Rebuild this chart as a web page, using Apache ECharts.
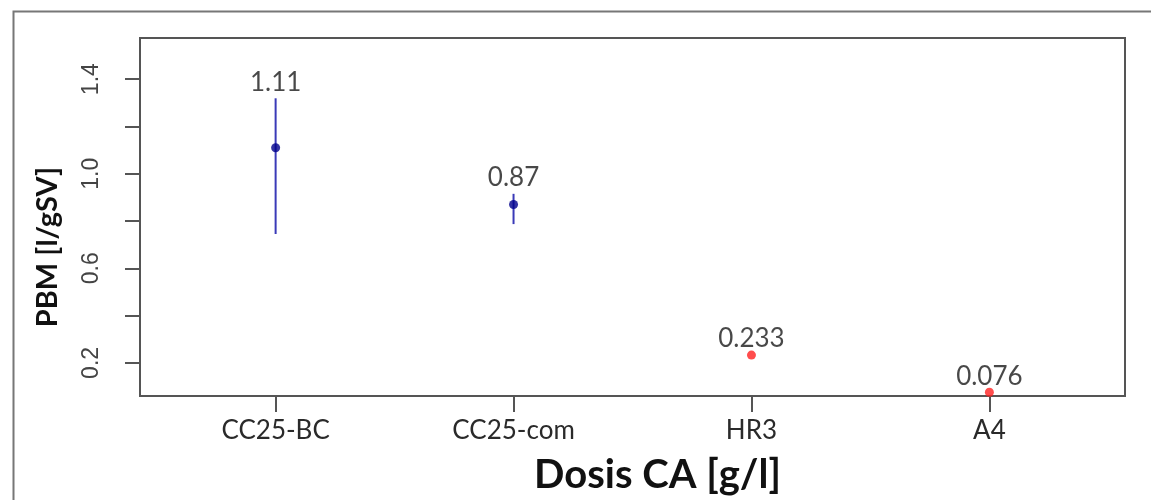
<!DOCTYPE html>
<html>
<head>
<meta charset="utf-8">
<script src="https://cdn.jsdelivr.net/npm/echarts@6/dist/echarts.min.js"></script>
<style>
  html,body{margin:0;padding:0;background:#fff;}
  #chart{width:1151px;height:500px;}
</style>
</head>
<body>
<div id="chart"></div>
<script>
    //类别
    var categories=['CC25-BC','CC25-com','HR3','A4'];
    //点值
    var pointValues=[1.11,0.87,0.233,0.076];
    //误差下限 / 上限
    var lowerValues=[0.745,0.787,null,null];
    var upperValues=[1.319,0.915,null,null];
    //点标签
    var pointLabels=['1.11','0.87','0.233','0.076'];
    //点颜色
    var pointColors=['#00008b','#00008b','#ff2020','#ff2020'];
    //y轴刻度
    var yTicks=[0.2,0.4,0.6,0.8,1.0,1.2,1.4];
    var yTickLabels=[0.2,0.6,1.0,1.4];

    var myChart=echarts.init(document.getElementById('chart'));

    var xPos=categories.map(function(c,i){return i+1;});

    var pointData=pointValues.map(function(v,i){
        return {value:[xPos[i],v],itemStyle:{color:pointColors[i]}};
    });

    var errorData=[];
    for(var i=0;i<categories.length;i++){
        if(lowerValues[i]!=null){
            errorData.push([xPos[i],lowerValues[i],upperValues[i]]);
        }
    }

    //标签锚点：有误差线取上限，否则取点值
    var labelData=pointValues.map(function(v,i){
        return {value:[xPos[i],upperValues[i]!=null?upperValues[i]:v],name:pointLabels[i]};
    });

    var option={
        animation:false,
        grid:{
            left:140,
            top:38,
            right:26,
            bottom:104,
            show:true,
            borderColor:'#555',
            borderWidth:2,
            backgroundColor:'#fff'
        },
        graphic:[{
            type:'rect',
            left:11,
            top:9,
            shape:{width:1200,height:600},
            style:{fill:'none',stroke:'#777',lineWidth:2},
            silent:true,
            z:-1
        }],
        xAxis:{
            type:'value',
            min:0.43,
            max:4.57,
            name:'Dosis CA [g/l]',
            nameLocation:'middle',
            nameGap:59,
            nameTextStyle:{fontFamily:'Lato',fontWeight:'bold',fontSize:40,color:'#111',padding:[0,0,0,50]},
            axisLine:{show:false},
            splitLine:{show:false},
            axisTick:{show:true,length:16,customValues:xPos,lineStyle:{color:'#555',width:2}},
            axisLabel:{
                customValues:xPos,
                margin:22,
                fontFamily:'Lato',
                fontSize:26,
                color:'#2a2a2a',
                formatter:function(v){return categories[Math.round(v)-1]||'';}
            }
        },
        yAxis:{
            type:'value',
            min:0.06,
            max:1.574,
            name:'PBM [l/gSV]',
            nameLocation:'middle',
            nameGap:78,
            nameRotate:90,
            nameTextStyle:{fontFamily:'Lato',fontWeight:'bold',fontSize:29,color:'#111',padding:[0,60,0,0]},
            axisLine:{show:false},
            splitLine:{show:false},
            axisTick:{show:true,length:15,customValues:yTicks,lineStyle:{color:'#555',width:2}},
            axisLabel:{
                customValues:yTickLabels,
                rotate:90,
                margin:37,
                fontFamily:'Liberation Sans',
                fontSize:23,
                color:'#444',
                formatter:function(v){return v.toFixed(1);}
            }
        },
        series:[
            {
                type:'custom',
                name:'error',
                data:errorData,
                z:2,
                renderItem:function(params,api){
                    var p1=api.coord([api.value(0),api.value(1)]);
                    var p2=api.coord([api.value(0),api.value(2)]);
                    return {
                        type:'line',
                        shape:{x1:p1[0],y1:p1[1],x2:p2[0],y2:p2[1]},
                        style:{stroke:'#3a3ab8',lineWidth:2}
                    };
                }
            },
            {
                type:'scatter',
                name:'points',
                data:pointData,
                symbol:'circle',
                symbolSize:9,
                z:3
            },
            {
                type:'scatter',
                name:'labels',
                data:labelData,
                symbolSize:0,
                silent:true,
                z:4,
                label:{
                    show:true,
                    position:'top',
                    distance:3,
                    fontFamily:'Lato',
                    fontSize:26,
                    color:'#1a1a1a',
                    formatter:function(p){return p.name;}
                }
            }
        ]
    };

    myChart.setOption(option);
</script>
</body>
</html>
